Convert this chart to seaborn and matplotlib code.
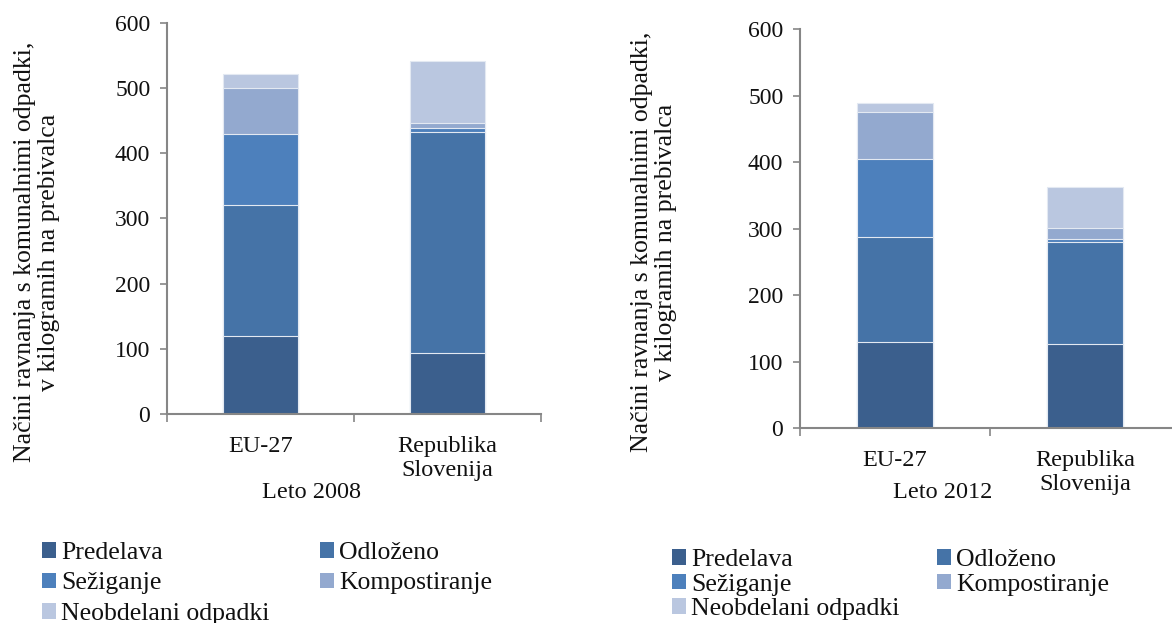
import numpy as np
import pandas as pd
import matplotlib
matplotlib.use("Agg")
import matplotlib.pyplot as plt
from matplotlib.patches import Patch
import seaborn as sns

sns.set_theme(style="white")
plt.rcParams["font.family"] = ["Liberation Serif", "DejaVu Serif"]
plt.rcParams["text.color"] = "#111111"
plt.rcParams["xtick.labelcolor"] = "#111111"
plt.rcParams["ytick.labelcolor"] = "#111111"

# Data: municipal waste treatment, kg per inhabitant
regions = ["EU-27", "Republika\nSlovenija"]
methods = ["Predelava", "Odloženo", "Sežiganje", "Kompostiranje", "Neobdelani odpadki"]
colors = ["#3B5F8D", "#4573A7", "#4D80BC", "#93A9CF", "#BAC7E0"]

predelava_2008 = [120, 93]
odlozeno_2008 = [200, 339]
seziganje_2008 = [110, 7]
kompost_2008 = [70, 8]
neobdelani_2008 = [21, 95]

predelava_2012 = [130, 126]
odlozeno_2012 = [158, 154]
seziganje_2012 = [117, 5]
kompost_2012 = [71, 16]
neobdelani_2012 = [13, 62]

ytick_vals = [0, 100, 200, 300, 400, 500, 600]

FS = 17
FS_LEG = 18.5
FS_YLAB = 18.5
GREY = "#868686"

fig = plt.figure(figsize=(11.72, 6.23), dpi=100)
ax1 = fig.add_axes([0.1425, 0.3355, 0.3191, 0.6276])
ax2 = fig.add_axes([0.6826, 0.3130, 0.3242, 0.6400])


def stacked(ax, layers):
    df = pd.DataFrame(dict(zip(methods, layers)), index=regions)
    cum = df.cumsum(axis=1)
    # draw tallest cumulative layer first so lower segments sit on top
    for m, c in reversed(list(zip(methods, colors))):
        sns.barplot(x=list(cum.index), y=cum[m].values, color=c, width=0.4,
                    saturation=1, edgecolor="#E3E9F2", linewidth=0.8, ax=ax)
    ax.set_ylim(0, 600)
    ax.set_xlim(-0.5, 1.5)
    ax.set_yticks(ytick_vals)
    ax.set_yticklabels([str(v) for v in ytick_vals], fontsize=FS)
    ax.tick_params(axis="y", direction="out", length=5, width=1.2, color=GREY,
                   pad=7, left=True)
    ax.tick_params(axis="x", which="major", length=0, labelsize=FS + 0.5, pad=16)
    ax.set_xticks([-0.5, 0.5, 1.5], minor=True)
    ax.tick_params(axis="x", which="minor", direction="out", length=6,
                   width=1.2, color=GREY, bottom=True)
    for s in ["top", "right"]:
        ax.spines[s].set_visible(False)
    for s in ["left", "bottom"]:
        ax.spines[s].set_color(GREY)
        ax.spines[s].set_linewidth(1.5)
    ax.set_xlabel("")
    ax.set_ylabel("")


stacked(ax1, [predelava_2008, odlozeno_2008, seziganje_2008, kompost_2008, neobdelani_2008])
stacked(ax2, [predelava_2012, odlozeno_2012, seziganje_2012, kompost_2012, neobdelani_2012])

ylabel = "Načini ravnanja s komunalnimi odpadki,\nv kilogramih na prebivalca"
fig.text(37 / 1172, 1 - 252 / 623, ylabel, rotation=90, ha="center", va="center",
         fontsize=FS_YLAB, linespacing=1.1)
fig.text(654 / 1172, 1 - 242 / 623, ylabel, rotation=90, ha="center", va="center",
         fontsize=FS_YLAB, linespacing=1.1)

fig.text(312 / 1172, 1 - 493 / 623, "Leto 2008", ha="center", va="center", fontsize=FS + 0.5)
fig.text(943 / 1172, 1 - 492 / 623, "Leto 2012", ha="center", va="center", fontsize=FS + 0.5)

# legend entries ordered so two columns read row by row
order = [0, 2, 4, 1, 3]
handles = [Patch(facecolor=colors[i], edgecolor="none", label=methods[i]) for i in order]

fig.legend(handles=handles, loc="upper left", bbox_to_anchor=(42 / 1172, 1 - 542 / 623),
           ncol=2, frameon=False, fontsize=FS_LEG, borderpad=0, borderaxespad=0,
           handlelength=0.55, handleheight=0.55, handletextpad=0.2,
           labelspacing=0.33, columnspacing=1.95)
fig.legend(handles=handles, loc="upper left", bbox_to_anchor=(672 / 1172, 1 - 549 / 623),
           ncol=2, frameon=False, fontsize=FS_LEG, borderpad=0, borderaxespad=0,
           handlelength=0.55, handleheight=0.55, handletextpad=0.2,
           labelspacing=0.1, columnspacing=1.44)

fig.savefig("out.png", dpi=100)
